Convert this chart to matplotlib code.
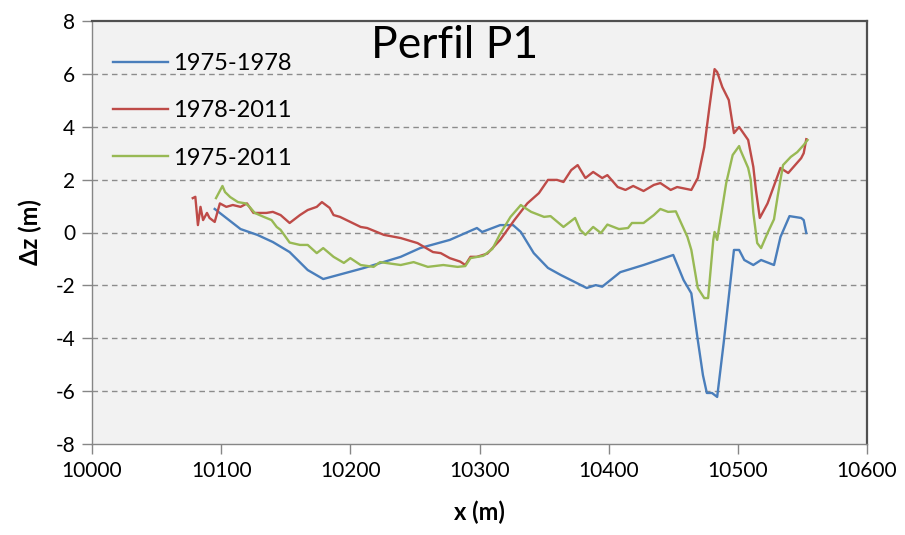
import matplotlib
matplotlib.use("Agg")
import matplotlib.pyplot as plt

# series (x in m, dz in m)
x_7578 = [10095, 10115, 10128, 10140, 10153, 10167, 10179, 10210, 10239, 10254,
          10277, 10298, 10302, 10316, 10326, 10332, 10342, 10353, 10363, 10383,
          10390, 10395, 10409, 10427, 10450, 10458, 10464, 10469, 10473, 10476,
          10480, 10484, 10489, 10497, 10501, 10505, 10512, 10518, 10528, 10533,
          10540, 10549, 10551, 10553]
z_7578 = [0.89, 0.13, -0.09, -0.36, -0.74, -1.42, -1.76, -1.35, -0.92, -0.59,
          -0.28, 0.17, 0.02, 0.28, 0.28, 0.02, -0.78, -1.34, -1.61, -2.1,
          -1.99, -2.05, -1.5, -1.23, -0.85, -1.8, -2.3, -4.07, -5.4, -6.07,
          -6.07, -6.22, -4.19, -0.66, -0.66, -1.04, -1.23, -1.04, -1.23, -0.17,
          0.62, 0.55, 0.47, -0.02]

x_7811 = [10078, 10080, 10082, 10084, 10086, 10089, 10091, 10095, 10099, 10104,
          10109, 10115, 10120, 10125, 10135, 10140, 10146, 10153, 10161, 10167,
          10174, 10178, 10184, 10187, 10192, 10200, 10208, 10213, 10226, 10239,
          10252, 10264, 10270, 10277, 10285, 10289, 10293, 10298, 10306, 10316,
          10327, 10337, 10346, 10353, 10360, 10365, 10371, 10376, 10382, 10388,
          10395, 10399, 10407, 10413, 10419, 10427, 10435, 10440, 10448, 10453,
          10464, 10469, 10474, 10478, 10482, 10484, 10488, 10493, 10497, 10501,
          10508, 10512, 10514, 10517, 10523, 10533, 10539, 10549, 10551, 10553]
z_7811 = [1.3, 1.35, 0.28, 0.97, 0.47, 0.74, 0.55, 0.40, 1.1, 0.97,
          1.04, 0.97, 1.1, 0.74, 0.74, 0.78, 0.66, 0.36, 0.66, 0.85,
          0.97, 1.15, 0.93, 0.66, 0.59, 0.4, 0.21, 0.17, -0.09, -0.21,
          -0.4, -0.74, -0.78, -0.97, -1.1, -1.23, -0.92, -0.92, -0.8, -0.28,
          0.47, 1.1, 1.49, 1.99, 1.99, 1.91, 2.36, 2.55, 2.06, 2.29,
          2.06, 2.17, 1.72, 1.61, 1.76, 1.57, 1.8, 1.87, 1.61, 1.72,
          1.61, 2.06, 3.23, 4.74, 6.18, 6.07, 5.5, 5.01, 3.76, 3.99,
          3.5, 2.48, 1.61, 0.55, 1.1, 2.44, 2.25, 2.81, 3.0, 3.53]

x_7511 = [10096, 10101, 10103, 10107, 10113, 10119, 10122, 10126, 10133, 10139,
          10143, 10146, 10153, 10161, 10167, 10174, 10179, 10187, 10195, 10200,
          10208, 10218, 10223, 10239, 10249, 10260, 10272, 10283, 10289, 10293,
          10303, 10310, 10316, 10324, 10332, 10334, 10340, 10350, 10355, 10365,
          10374, 10378, 10382, 10388, 10394, 10399, 10408, 10415, 10418, 10427,
          10435, 10440, 10446, 10452, 10461, 10464, 10469, 10474, 10477, 10481,
          10482, 10484, 10491, 10496, 10501, 10502, 10508, 10510, 10512, 10515,
          10518, 10523, 10528, 10531, 10535, 10541, 10546, 10551, 10554]
z_7511 = [1.3, 1.76, 1.53, 1.34, 1.15, 1.1, 0.97, 0.74, 0.59, 0.47,
          0.21, 0.1, -0.38, -0.47, -0.47, -0.78, -0.59, -0.92, -1.15, -0.97,
          -1.23, -1.3, -1.12, -1.23, -1.12, -1.3, -1.23, -1.3, -1.27, -0.97,
          -0.88, -0.62, -0.05, 0.59, 1.04, 0.97, 0.78, 0.59, 0.62, 0.21,
          0.55, 0.1, -0.09, 0.21, -0.02, 0.3, 0.13, 0.17, 0.36, 0.36,
          0.66, 0.89, 0.78, 0.8, -0.17, -0.66, -2.1, -2.48, -2.48, -0.28,
          0.02, -0.28, 1.87, 2.93, 3.27, 3.12, 2.44, 1.99, 0.74, -0.4,
          -0.59, -0.02, 0.5, 1.42, 2.55, 2.86, 3.04, 3.31, 3.5]

x_ticks = [10000, 10100, 10200, 10300, 10400, 10500, 10600]
y_ticks = [-8, -6, -4, -2, 0, 2, 4, 6, 8]

plt.rcParams['font.family'] = ['Lato', 'DejaVu Sans']
plt.rcParams['axes.unicode_minus'] = False

fig = plt.figure(figsize=(9.05, 5.35), dpi=100)
ax = fig.add_axes([92 / 905, 1 - 444 / 535, (867 - 92) / 905, (444 - 21) / 535])
ax.set_facecolor("#F2F2F2")

ax.plot(x_7578, z_7578, color="#4A7EBB", lw=1.7, label="1975-1978")
ax.plot(x_7811, z_7811, color="#BE4B48", lw=1.7, label="1978-2011")
ax.plot(x_7511, z_7511, color="#98B954", lw=1.7, label="1975-2011")

ax.set_xlim(10000, 10600)
ax.set_ylim(-8, 8)
ax.set_xticks(x_ticks)
ax.set_yticks(y_ticks)
for y in y_ticks[1:-1]:
    ax.axhline(y, color="#8C8C8C", lw=1.0, ls=(0, (4, 3)), zorder=0.5)

ax.tick_params(axis="both", direction="out", length=7, width=1, color="#868686",
               labelsize=15, pad=5)
for s in ["left", "bottom"]:
    ax.spines[s].set_color("#868686")
    ax.spines[s].set_linewidth(1.0)
for s in ["top", "right"]:
    ax.spines[s].set_color("#505050")
    ax.spines[s].set_linewidth(1.6)

ax.set_xlabel("x (m)", fontsize=17, fontweight="bold", labelpad=14)
ax.set_ylabel("Δz (m)", fontsize=17, fontweight="bold", labelpad=10)

fig.text(455 / 905, 1 - 45 / 535, "Perfil P1", fontsize=32, ha="center", va="center")

leg = ax.legend(loc="upper left", bbox_to_anchor=(0.0, 0.975), frameon=False, fontsize=17,
                handlelength=2.3, handletextpad=0.25, labelspacing=1.12)
leg.set_zorder(5)

fig.savefig("out.png", dpi=100)
